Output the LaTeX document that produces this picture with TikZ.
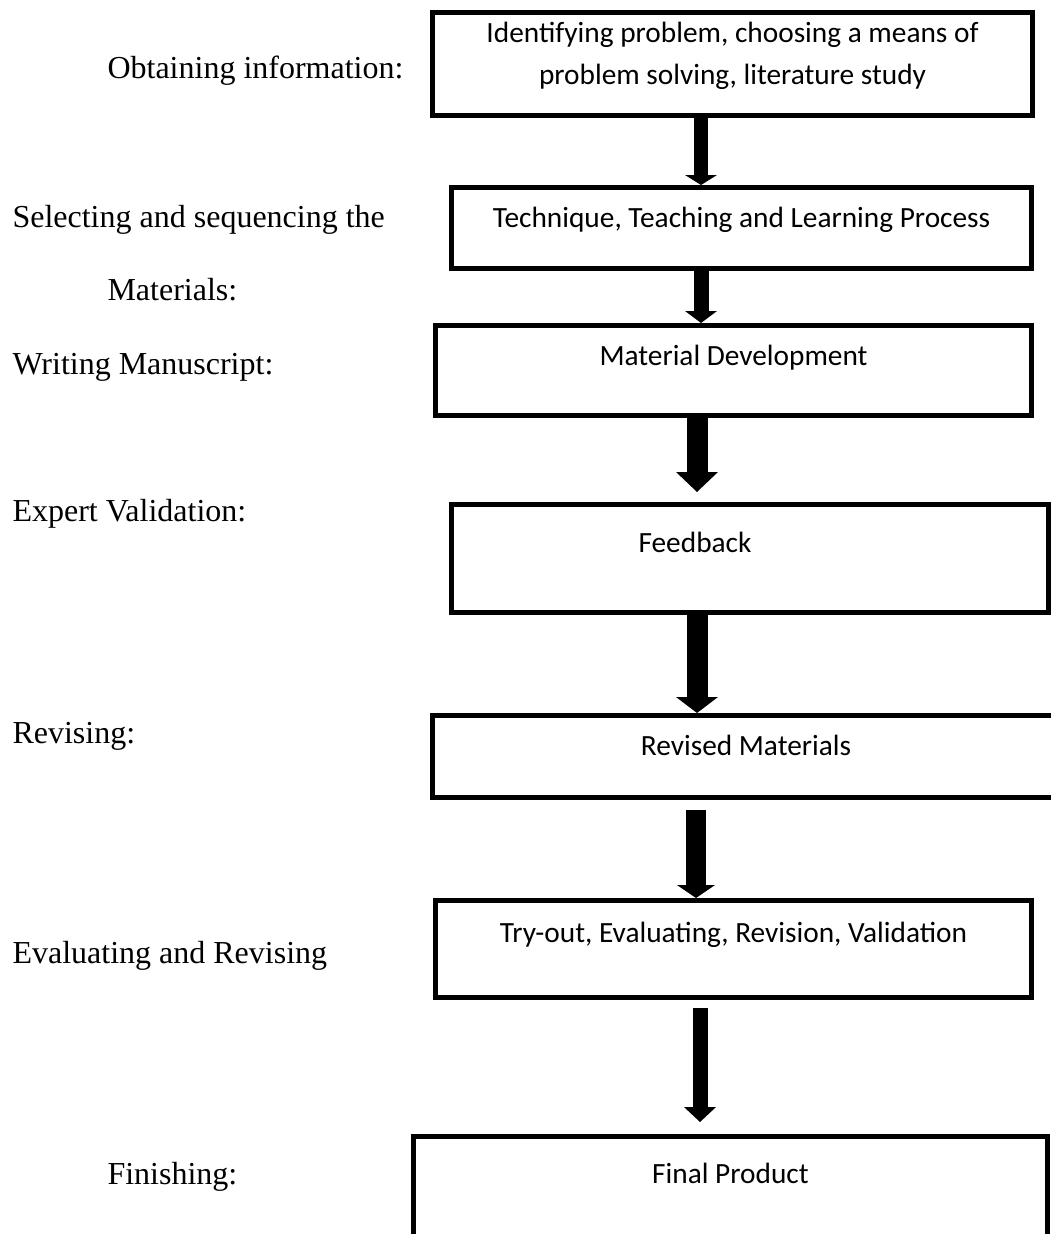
\documentclass[tikz,border=0pt]{standalone}
\usepackage{fontspec}
\setmainfont{Liberation Serif}
\newfontfamily\calibrifont{Carlito}
\usetikzlibrary{arrows.meta}
\begin{document}
\begin{tikzpicture}[x=0.375pt,y=-0.375pt,
  box/.style={draw, line width=2pt, inner xsep=0pt, inner ysep=0pt, anchor=north west,
    font=\calibrifont\fontsize{11pt}{15.75pt}\selectfont},
  lab/.style={anchor=base west, inner sep=0pt, font=\fontsize{12pt}{14pt}\selectfont},
  blk/.style n args={3}{line width=#1, -{Triangle[width=#2,length=#3,line width=0pt]}}]
\useasboundingbox (0,0) rectangle (1051,1234);
\fill[white] (0,0) rectangle (1051,1234);

% boxes
\node[box, minimum width=224.9pt, text height=11.37pt, text depth=27.12pt] (b1) at (430,10)
  {\begin{tabular}[t]{@{}c@{}}Identifying problem, choosing a means of\\problem solving, literature study\end{tabular}};
\node[box, minimum width=217.4pt, text height=15.12pt, text depth=15.12pt] (b2) at (449,185)
  {Technique, Teaching and Learning Process};
\node[box, minimum width=223.4pt, text height=15.12pt, text depth=18.5pt] (b3) at (433,323)
  {Material Development};
\node[box, minimum width=223.75pt, text height=18.12pt, text depth=22.25pt] (b4) at (449,502)
  {Feedback\hspace*{41.25pt}};
\node[box, minimum width=235pt, text height=15.12pt, text depth=15.5pt] (b5) at (430,713)
  {Revised Materials};
\node[box, minimum width=223.4pt, text height=15.87pt, text depth=20.37pt] (b6) at (433,898)
  {Try-out, Evaluating, Revision, Validation};
\node[box, minimum width=237.6pt, text height=17.37pt, text depth=25.1pt] (b7) at (411,1134)
  {Final Product};

% left labels
\node[lab] (l1) at (107,79) {Obtaining information:};
\node[lab] (l2) at (12,227) {Selecting and sequencing the};
\node[lab] (l3) at (107,300) {Materials:};
\node[lab] (l4) at (12,374) {Writing Manuscript:};
\node[lab] (l5) at (12,521) {Expert Validation:};
\node[lab] (l6) at (12,743) {Revising:};
\node[lab] (l7) at (12,963) {Evaluating and Revising};
\node[lab] (l8) at (107,1184) {Finishing:};

% arrow axes
\coordinate (x1) at (701,0);
\coordinate (x2) at (701,0);
\coordinate (x3) at (697,0);
\coordinate (x4) at (697,0);
\coordinate (x5) at (696,0);
\coordinate (x6) at (700,0);

% arrows
\draw[blk={5.25pt}{12pt}{3.75pt}] (b1.south -| x1) -- (b2.north -| x1);
\draw[blk={5.62pt}{12pt}{4.5pt}] (b2.south -| x2) -- (b3.north -| x2);
\draw[blk={7.87pt}{15.75pt}{7.5pt}, shorten >=3.75pt] (b3.south -| x3) -- (b4.north -| x3);
\draw[blk={7.87pt}{15.75pt}{6pt}] (b4.south -| x4) -- (b5.north -| x4);
\draw[blk={7.5pt}{14.25pt}{4.87pt}, shorten <=3.75pt] (b5.south -| x5) -- (b6.north -| x5);
\draw[blk={5.62pt}{12pt}{5.62pt}, shorten <=3pt, shorten >=4.5pt] (b6.south -| x6) -- (b7.north -| x6);
\end{tikzpicture}
\end{document}
